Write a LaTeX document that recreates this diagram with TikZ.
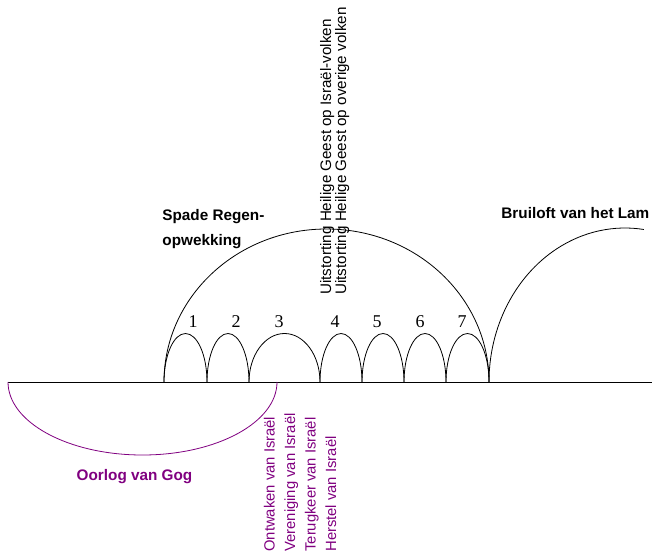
\documentclass[tikz,border=0pt]{standalone}
\usepackage{fontspec}
\setmainfont{Liberation Sans}
\newfontfamily\numfont{Liberation Serif}
\definecolor{gogpurple}{RGB}{128,0,128}

\begin{document}
\begin{tikzpicture}[x=1pt, y=1pt, line width=0.8pt,
  title/.style={inner sep=0pt, font=\bfseries\fontsize{15.3}{25}\selectfont},
  numstyle/.style={inner sep=0pt, font=\numfont\fontsize{18}{18}\selectfont},
  vtext/.style={inner sep=0pt, rotate=90, align=left}]
\useasboundingbox (0,-175) rectangle (652,382);

% Time line
\coordinate (start) at (8,0);
\coordinate (end) at (652,0);
\draw (start) -- (end);

% Seven small arcs
\foreach \xa/\xb [count=\n] in {164/207,207/249,249/320,320/362,362/404,404/446,446/489} {
  \coordinate (w\n) at (\xa,0);
  \draw (w\n) arc[start angle=180, end angle=0, x radius={(\xb-\xa)/2}, y radius=48.5];
}
\coordinate (w8) at (489,0);

% Numbers above the arcs
\foreach \n/\x in {1/193,2/236,3/279,4/335,5/377,6/420,7/462} {
  \node[numstyle] (num\n) at (\x,60.5) {\n};
}

% Big arc
\draw (w1) arc[start angle=180, end angle=0, x radius=162.5, y radius=153];
\node[title, anchor=base west, align=left] (regen) at (162,137) {Spade Regen-\\opwekking};

% Wedding arc
\draw (w8) arc[start angle=180, end angle=82, x radius=136, y radius=154];
\node[title, anchor=base west] (bruiloft) at (501,164) {Bruiloft van het Lam};

% Outpouring
\node[vtext, anchor=base west, font=\fontsize{15.2}{15}\selectfont] (outpour) at (346,87)
  {Uitstorting Heilige Geest op Israël-volken\\Uitstorting Heilige Geest op overige volken};

% War of Gog
\draw[gogpurple] (start) arc[start angle=180, end angle=360, x radius=134.5, y radius=73];
\node[title, gogpurple, anchor=base] (gog) at (134.5,-98) {Oorlog van Gog};
\node[vtext, gogpurple, anchor=base west, font=\fontsize{14.8}{20.5}\selectfont] (israel) at (336,-170)
  {Ontwaken van Israël\\Vereniging van Israël\\Terugkeer van Israël\\Herstel van Israël};
\end{tikzpicture}
\end{document}
